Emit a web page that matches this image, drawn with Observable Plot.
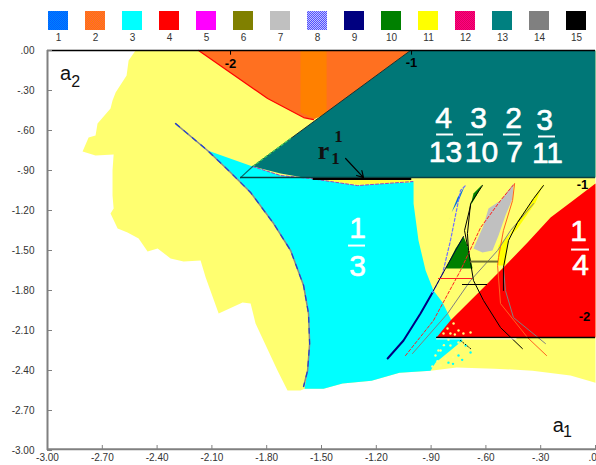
<!DOCTYPE html>
<html><head><meta charset="utf-8">
<style>html,body{margin:0;padding:0;background:#fff;overflow:hidden}svg{display:block}</style>
<script src="https://cdn.jsdelivr.net/npm/d3@7"></script>
<script src="https://cdn.jsdelivr.net/npm/@observablehq/plot@0.6"></script>
</head><body><div id="chart"></div>
<script>
// legend
const legendLabels = [1,2,3,4,5,6,7,8,9,10,11,12,13,14,15];
const legendFills = ["url(#dBlue)","url(#dOrange)","#00ffff","#ff0000","#ff00ff","#808000","#c0c0c0","url(#dPeri)","#000080","#008000","#ffff00","url(#dRose)","#008080","#808080","#000000"];
// axis ticks
const xTicks = [-3,-2.7,-2.4,-2.1,-1.8,-1.5,-1.2,-0.9,-0.6,-0.3,0];
const yTicks = [0,-0.3,-0.6,-0.9,-1.2,-1.5,-1.8,-2.1,-2.4,-2.7,-3];
// regions in the (a1, a2) parameter plane
const yellowA1 = [-2.518,-2.556,-2.567,-2.627,-2.644,-2.655,-2.726,-2.737,-2.775,-2.808,-2.737,-2.638,-2.644,-2.644,-2.644,-2.638,-2.655,-2.616,-2.562,-2.501,-2.452,-2.397,-2.326,-2.255,-2.162,-2.134,-2.063,-1.932,-1.888,-1.861,-1.741,-1.686,-1.615,-1.593,-1.489,-1.385,-1.226,-1.073,-0.903,-0.761,-0.553,-0.345,-0.137,0,0];
const yellowA2 = [0,-0.075,-0.188,-0.315,-0.375,-0.435,-0.548,-0.638,-0.653,-0.758,-0.788,-0.78,-0.9,-1.028,-1.088,-1.185,-1.223,-1.335,-1.365,-1.41,-1.508,-1.485,-1.56,-1.583,-1.575,-1.703,-1.973,-1.89,-1.898,-2.048,-2.4,-2.55,-2.55,-2.536,-2.536,-2.498,-2.476,-2.416,-2.401,-2.378,-2.386,-2.401,-2.438,-2.491,0];
const cyanA1 = [-2.124,-1.877,-1.724,-1.56,-1.303,-0.996,-0.996,-0.969,-0.93,-0.887,-0.837,-0.783,-0.728,-0.794,-0.876,-0.903,-1.073,-1.226,-1.385,-1.489,-1.593,-1.576,-1.565,-1.571,-1.598,-1.669,-1.762,-1.888,-2.009];
const cyanA2 = [-0.75,-0.87,-0.938,-0.96,-1.013,-0.983,-1.148,-1.425,-1.65,-1.8,-1.89,-2.04,-2.175,-2.25,-2.341,-2.401,-2.416,-2.476,-2.498,-2.536,-2.536,-2.4,-2.198,-1.973,-1.763,-1.5,-1.298,-1.065,-0.9];
const stripA1 = [-1.544,-1.013,-1.013,-1.303];
const stripA2 = [-0.96,-0.96,-0.99,-1.005];
const tealA1 = [-1.013,0,0,-1.598,-1.724,-1.877];
const tealA2 = [0,0,-0.953,-0.953,-0.923,-0.87];
const orangeA1 = [-2.173,-1.013,-1.467,-1.544,-1.598,-1.795];
const orangeA2 = [0,0,-0.465,-0.518,-0.503,-0.36];
const solidOrangeA1 = [-1.615,-1.472,-1.472,-1.538,-1.615];
const solidOrangeA2 = [0,0,-0.473,-0.51,-0.465];
const redA1 = [-0.87,-0.794,-0.629,-0.504,-0.372,-0.246,-0.137,0,0];
const redA2 = [-2.153,-2.025,-1.8,-1.628,-1.44,-1.253,-1.14,-0.998,-2.153];
const greenA1 = [-0.723,-0.766,-0.821,-0.673,-0.701];
const greenA2 = [-1.395,-1.485,-1.635,-1.635,-1.463];
const greenTipA1 = [-0.619,-0.668,-0.684,-0.651];
const greenTipA2 = [-1.005,-1.073,-1.163,-1.088];
const blueA1 = [-0.717,-0.755,-0.81,-0.788,-0.744];
const blueA2 = [-1.02,-1.103,-1.29,-1.215,-1.11];
const grayA1 = [-0.449,-0.52,-0.586,-0.613,-0.668,-0.619,-0.564,-0.531,-0.493,-0.454];
const grayA2 = [-0.998,-1.125,-1.185,-1.313,-1.485,-1.515,-1.5,-1.388,-1.238,-1.11];
const brightA1 = [-0.285,-0.356,-0.427,-0.465,-0.531,-0.536,-0.493,-0.476,-0.427,-0.328];
const brightA2 = [-0.998,-1.148,-1.275,-1.373,-1.463,-1.613,-1.613,-1.403,-1.335,-1.14];
// boundary curves
const curveA1 = [-2.299,-2.124,-2.009,-1.888,-1.762,-1.669,-1.598,-1.571,-1.565,-1.576,-1.598];
const curveA2 = [-0.548,-0.75,-0.9,-1.065,-1.298,-1.5,-1.763,-1.973,-2.198,-2.4,-2.52];
const navyA1 = [-1.138,-1.051,-0.958,-0.892]; const navyA2 = [-2.31,-2.175,-1.973,-1.815];
const periA1 = [-0.892,-0.837,-0.794,-0.739,-0.712]; const periA2 = [-1.815,-1.673,-1.425,-1.05,-1.013];
const redCurveA1 = [-1.04,-0.887,-0.739,-0.629,-0.52,-0.443]; const redCurveA2 = [-2.288,-2.025,-1.65,-1.328,-1.125,-0.998];
const orangeCurveA1 = [-0.443,-0.454,-0.504,-0.531,-0.536,-0.52,-0.372,-0.268]; const orangeCurveA2 = [-0.998,-1.125,-1.35,-1.553,-1.613,-1.898,-2.153,-2.288];
const grayLowA1 = [-0.504,-0.493,-0.449,-0.274]; const grayLowA2 = [-1.628,-1.8,-2.003,-2.198];
const grayLongA1 = [-1.002,-0.81,-0.684,-0.536,-0.465,-0.339]; const grayLongA2 = [-2.273,-1.973,-1.725,-1.5,-1.35,-1.148];
const blackAA1 = [-0.619,-0.684,-0.701,-0.695,-0.668,-0.613,-0.52,-0.4]; const blackAA2 = [-1.013,-1.148,-1.373,-1.5,-1.725,-1.875,-2.078,-2.236];
const blackBA1 = [-0.684,-0.717,-0.701]; const blackBA2 = [-1.163,-1.35,-1.463];
const blackCA1 = [-0.285,-0.339,-0.427,-0.476,-0.504,-0.504]; const blackCA2 = [-1.013,-1.11,-1.29,-1.425,-1.628,-1.8];
const greenEdgeA1 = [-0.723,-0.821,-0.887]; const greenEdgeA2 = [-1.395,-1.635,-1.8];
const pinkEdgeA1 = [-1.877,-1.724,-1.56,-1.303,-1.0]; const pinkEdgeA2 = [-0.87,-0.938,-0.96,-1.013,-0.983];
const redEdgeA1 = [-2.173,-1.795,-1.598,-1.544]; const redEdgeA2 = [0,-0.36,-0.503,-0.518];
// speckles
const speckYellowA1 = [-0.777,-0.75,-0.723,-0.794,-0.832,-0.81,-0.684,-0.848,-0.821,-0.876,-0.794,-0.766,-0.848,-0.865,-0.83,-0.805,-0.78,-0.893,-0.86,-0.75,-0.77];
const speckYellowA2 = [-2.048,-2.1,-2.123,-2.123,-2.123,-2.085,-2.115,-2.25,-2.31,-2.288,-2.213,-2.265,-2.363,-2.33,-2.21,-2.17,-2.3,-2.37,-2.25,-2.19,-2.13];
const speckCyanA1 = [-0.711,-0.75,-0.684,-0.805,-0.73,-0.78];
const speckCyanA2 = [-2.213,-2.288,-2.265,-2.341,-2.32,-2.35];

const poly = (a1, a2, fill) => Plot.line(a1, {x: a1, y: a2, fill, stroke: "none"});
const path = (a1, a2, stroke, strokeWidth = 1, extra = {}) => Plot.line(a1, {x: a1, y: a2, stroke, strokeWidth, ...extra});
const seg = (x1, x2, y, stroke, strokeWidth) => Plot.ruleY([y], {x1, x2, stroke, strokeWidth});
const label = (text, x, y, fontSize, fill, extra = {}) => Plot.text([text], {x: [x], y: [y], text: [text], fontSize, fill, textAnchor: "middle", lineAnchor: "middle", stroke: "none", ...extra});
const tf = d => (d < 0 ? "-" : "") + Math.abs(d).toFixed(2).replace(/^0/, "");
const frac = {fontFamily: "Liberation Sans", stroke: "#fff", strokeWidth: 0.6};
const plain = {fontFamily: "Liberation Sans"};
const serif = {fontFamily: "Liberation Serif", fontWeight: "bold"};
const bold = {fontFamily: "Liberation Sans", fontWeight: "bold"};

const legend = Plot.plot({
  width: 596, height: 45, marginLeft: 37.4, marginRight: 0.4, marginTop: 11, marginBottom: 15,
  x: {type: "band", domain: legendLabels, paddingInner: 0.46, paddingOuter: 0.23, axis: null},
  color: {type: "identity"},
  style: {fontFamily: "Liberation Sans", background: "#fff"},
  marks: [
    Plot.cell(legendLabels, {x: d => d, fill: legendFills}),
    Plot.text(legendLabels, {x: d => d, text: d => String(d), frameAnchor: "bottom", lineAnchor: "top", dy: 3, fontSize: 10, fill: "#333"})
  ]
});

const main = Plot.plot({
  width: 596, height: 420, marginLeft: 47, marginRight: 1, marginTop: 5, marginBottom: 15,
  x: {domain: [-3, 0], axis: null},
  y: {domain: [-3, 0], axis: null},
  style: {fontFamily: "Liberation Sans", background: "#fff", overflow: "hidden"},
  marks: [
    poly(yellowA1, yellowA2, "url(#dYellow)"),
    poly(cyanA1, cyanA2, "#00ffff"),
    poly(stripA1, stripA2, "#ffff40"),
    poly(orangeA1, orangeA2, "url(#dOrange)"),
    poly(solidOrangeA1, solidOrangeA2, "#ff8000"),
    poly(tealA1, tealA2, "url(#dTeal)"),
    poly(redA1, redA2, "#ff0000"),
    poly(greenA1, greenA2, "#008000"),
    poly(greenTipA1, greenTipA2, "#008000"),
    poly(blueA1, blueA2, "#0070e0"),
    poly(grayA1, grayA2, "#c0c0c0"),
    poly(brightA1, brightA2, "#ffff00"),
    Plot.dot(speckYellowA1, {x: speckYellowA1, y: speckYellowA2, r: 1.2, fill: "#ffff80", stroke: "none"}),
    Plot.dot(speckCyanA1, {x: speckCyanA1, y: speckCyanA2, r: 1.2, fill: "#00ffff", stroke: "none"}),
    path(redEdgeA1, redEdgeA2, "#ff0000", 1.2),
    path([-1.877,-1.013], [-0.87,0], "#1a3030", 1),
    path([-1.877,-1.669], [-0.87,-0.66], "#40d060", 1.2, {strokeDasharray: "3 2"}),
    path(pinkEdgeA1, pinkEdgeA2, "#a040c0", 1, {strokeDasharray: "3 2"}),
    path([-1.943,-1.877], [-0.953,-0.87], "#0a6a6a", 1.2),
    seg(-1.943, 0, -0.953, "#0a4040", 1.4),
    path([-1.544,-1.013], [-0.963,-0.963], "#000000", 2, {strokeDasharray: "1 1"}),
    path(curveA1, curveA2, "#8a8a8a", 1.5),
    path(curveA1, curveA2, "#2040d0", 1.2, {strokeDasharray: "5 6"}),
    path(navyA1, navyA2, "#000080", 2),
    path(periA1, periA2, "#7070ff", 1.2, {strokeDasharray: "3 2"}),
    path(redCurveA1, redCurveA2, "#ff2020", 1, {strokeDasharray: "3 2"}),
    path(orangeCurveA1, orangeCurveA2, "#ff6020", 1),
    path(grayLowA1, grayLowA2, "#808080", 1),
    path(grayLongA1, grayLongA2, "#808080", 1),
    path(blackAA1, blackAA2, "#000000", 1),
    path(blackBA1, blackBA2, "#000000", 1),
    path(blackCA1, blackCA2, "#000000", 1),
    path(greenEdgeA1, greenEdgeA2, "#000040", 1),
    seg(-0.684, -0.531, -1.583, "#707030", 2),
    seg(-0.859, -0.673, -1.71, "#ff2020", 1),
    seg(-0.728, -0.591, -1.755, "#000000", 1),
    seg(-0.87, 0, -2.153, "#000000", 1.4),
    seg(-0.87, -0.43, -2.163, "#ffffff", 1),
    path([-0.739,-0.684], [-2.175,-2.236], "#000000", 1, {strokeDasharray: "1 2"}),
    // fractions
    label("1", -1.303, -1.335, 30, "#fff", frac), seg(-1.352, -1.259, -1.463, "#fff", 2), label("3", -1.303, -1.62, 30, "#fff", frac),
    label("1", -0.093, -1.358, 30, "#fff", frac), seg(-0.131, -0.033, -1.493, "#fff", 2), label("4", -0.082, -1.613, 30, "#fff", frac),
    label("4", -0.832, -0.51, 30, "#fff", frac), seg(-0.87, -0.777, -0.63, "#fff", 2), label("13", -0.821, -0.765, 30, "#fff", frac),
    label("3", -0.64, -0.51, 30, "#fff", frac), seg(-0.706, -0.613, -0.63, "#fff", 2), label("10", -0.624, -0.765, 30, "#fff", frac),
    label("2", -0.449, -0.51, 30, "#fff", frac), seg(-0.504, -0.411, -0.63, "#fff", 2), label("7", -0.443, -0.765, 30, "#fff", frac),
    label("3", -0.279, -0.525, 30, "#fff", frac), seg(-0.312, -0.219, -0.645, "#fff", 2), label("11", -0.263, -0.773, 30, "#fff", frac),
    // annotations
    label("a", -2.901, -0.173, 20, "#111", plain), label("2", -2.846, -0.233, 16, "#111", plain),
    label("a", -0.203, -2.813, 20, "#111", plain), label("1", -0.153, -2.858, 16, "#111", plain),
    label("r", -1.489, -0.75, 26, "#111", serif), label("1", -1.407, -0.645, 17, "#111", serif), label("1", -1.423, -0.81, 17, "#111", serif),
    Plot.arrow([0], {x1: [-1.368], y1: [-0.81], x2: [-1.27], y2: [-0.953], stroke: "#000", strokeWidth: 1.2, headLength: 9}),
    label("-2", -1.998, -0.098, 13, "#000", bold), label("-1", -1.007, -0.09, 13, "#000", bold),
    label("-1", -0.071, -1.005, 13, "#000", bold), label("-2", -0.06, -1.995, 13, "#000", bold),
    Plot.ruleX([-1.998, -1.007], {y1: 0, y2: -0.035, stroke: "#000"}),
    // frame and axes
    Plot.ruleY([0], {stroke: "#000", strokeWidth: 1.6}),
    Plot.ruleX([-3], {stroke: "#808080", strokeWidth: 2}),
    Plot.ruleY([-2.99], {stroke: "#808080", strokeWidth: 2}),
    Plot.axisX(xTicks, {anchor: "bottom", tickSize: -5, tickPadding: 8, tickFormat: tf, fontSize: 10, stroke: "#808080", fill: "#333"}),
    Plot.axisY(yTicks, {anchor: "left", tickSize: -5, tickPadding: 18, tickFormat: tf, fontSize: 10, stroke: "#808080", fill: "#333"})
  ]
});

const checker = (id, a, b) => {
  const p = d3.select(main).append("defs").append("pattern")
    .attr("id", id).attr("width", 2).attr("height", 2).attr("patternUnits", "userSpaceOnUse");
  p.append("rect").attr("width", 2).attr("height", 2).attr("fill", a);
  p.append("rect").attr("width", 1).attr("height", 1).attr("fill", b);
  p.append("rect").attr("x", 1).attr("y", 1).attr("width", 1).attr("height", 1).attr("fill", b);
};
checker("dYellow", "#ffff30", "#ffffb0");
checker("dOrange", "#ff8000", "#ff6040");
checker("dTeal", "#008a8a", "#006464");
checker("dBlue", "#0080ff", "#0060ff");
checker("dPeri", "#5050ff", "#c0c0ff");
checker("dRose", "#ff0080", "#e00060");

const host = document.getElementById("chart");
host.append(legend, main);
</script>
</body></html>
